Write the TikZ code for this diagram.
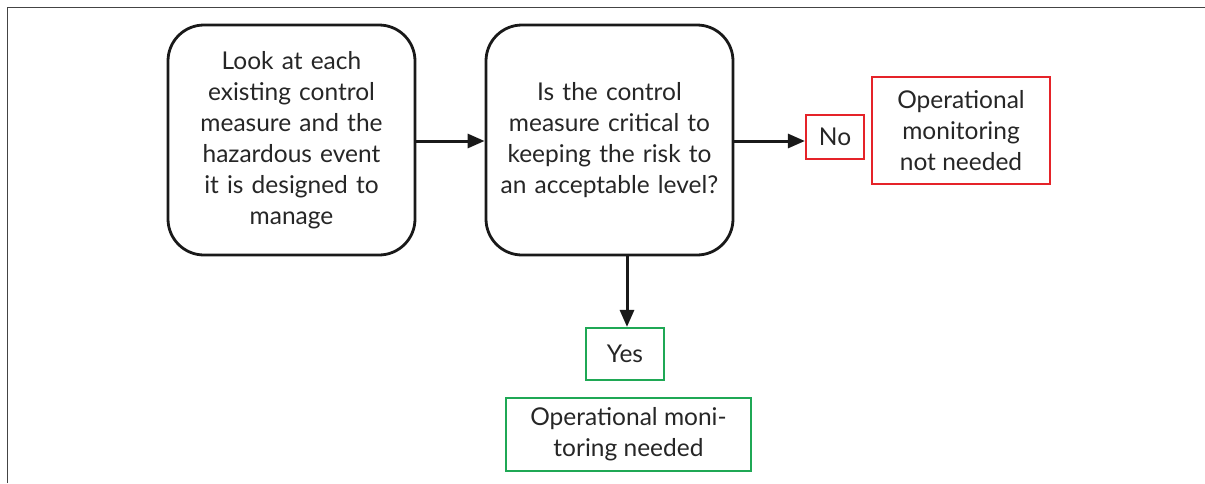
\documentclass[tikz,border=0pt]{standalone}
\usepackage{fontspec}
\setmainfont{Lato}
\usetikzlibrary{arrows.meta}
\definecolor{redb}{HTML}{E52329}
\definecolor{greenb}{HTML}{1FA855}
\definecolor{framec}{HTML}{444444}
\begin{document}
\begin{tikzpicture}[x=1pt,y=-1pt,
  every node/.style={font=\fontsize{24.5}{31}\selectfont, text=black!85},
  rbox/.style={draw=black!90, line width=2.8pt, rounded corners=36pt, minimum width=247pt, minimum height=230pt, align=center, inner sep=0pt},
  redbox/.style={draw=redb, line width=2.2pt, align=center, inner sep=0pt},
  greenbox/.style={draw=greenb, line width=2.2pt, align=center, inner sep=0pt},
  arr/.style={line width=3pt, draw=black!90, -{Triangle[length=17pt,width=14pt]}}]
\useasboundingbox (0,0) rectangle (1205,483);
\draw[framec, line width=1.6pt] (7.5,483) -- (7.5,7.5) -- (1205,7.5);
\node[rbox, text width=230pt] (a) at (291.5,140) {Look at each\\existing control\\measure and the\\hazardous event\\it is designed to\\manage};
\node[rbox, text width=240pt] (b) at (609.5,140) {Is the control\\measure critical to\\keeping the risk to\\an acceptable level?};
\node[redbox, minimum width=58pt, minimum height=44pt] (no) at (835,137) {No};
\node[redbox, minimum width=178pt, minimum height=107pt] (nn) at (961,130.5) {Operational\\monitoring\\not needed};
\node[greenbox, minimum width=78pt, minimum height=52pt] (yes) at (625,354) {Yes};
\node[greenbox, minimum width=245pt, minimum height=73pt] (nd) at (628.5,434.5) {Operational moni-\\toring needed};
\draw[arr] (a.east |- 0,141) -- (b.west |- 0,141);
\draw[arr] (b.east |- 0,141) -- (no.west |- 0,141);
\draw[arr] (b.south -| 627,0) -- (yes.north -| 627,0);
\end{tikzpicture}
\end{document}
